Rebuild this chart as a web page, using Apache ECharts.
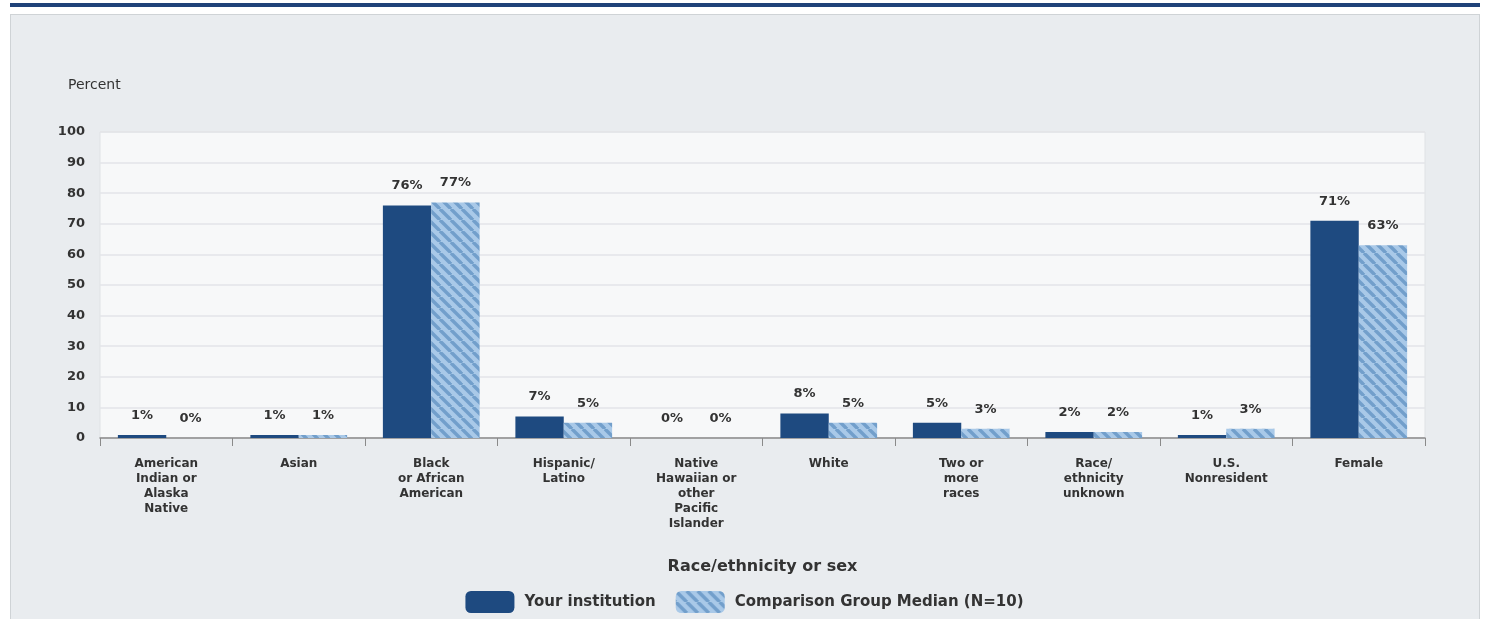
<!DOCTYPE html>
<html><head><meta charset="utf-8">
<script src="https://cdn.jsdelivr.net/npm/echarts@6/dist/echarts.min.js"></script>
<style>
html,body{margin:0;padding:0;background:#fff;}
#bar{position:absolute;left:10px;top:3px;width:1470px;height:4px;background:#1f4279;}
#panel{position:absolute;left:10px;top:14px;width:1468px;height:620px;background:#e9ecef;border:1px solid #cfd3d6;}
#chart{position:absolute;left:0;top:0;width:1489px;height:619px;}
</style></head>
<body>
<div id="bar"></div><div id="panel"></div>
<div id="chart"></div>
<script>
const categories = ["American\nIndian or\nAlaska\nNative","Asian","Black\nor African\nAmerican","Hispanic/\nLatino","Native\nHawaiian or\nother\nPacific\nIslander","White","Two or\nmore\nraces","Race/\nethnicity\nunknown","U.S.\nNonresident","Female"];
const yourInstitution = [1,1,76,7,0,8,5,2,1,71];
const comparisonMedian = [0,1,77,5,0,5,3,2,3,63];
const seriesNames = ["Your institution","Comparison Group Median (N=10)"];

const FONT = 'DejaVu Sans';
function hatch(){
  const c=document.createElement('canvas');c.width=11;c.height=11;
  const g=c.getContext('2d');
  g.fillStyle='#a9c9e8';g.fillRect(0,0,11,11);
  g.strokeStyle='#729fcb';g.lineWidth=3.4;
  for(let k=-11;k<=22;k+=11){g.beginPath();g.moveTo(k,0);g.lineTo(k+11,11);g.stroke();}
  return c;
}
const chart=echarts.init(document.getElementById('chart'),null,{renderer:'canvas'});
const lbl={show:true,position:'top',distance:13,formatter:'{c}%',color:'#333',fontWeight:'bold',fontSize:13,fontFamily:FONT};
chart.setOption({
  animation:false,
  textStyle:{fontFamily:FONT},
  grid:{left:100,right:64,top:132,bottom:181,show:true,backgroundColor:'#f7f8f9',borderColor:'#dfe2e5',borderWidth:1},
  legend:{bottom:1,left:'center',itemWidth:49,itemHeight:22,itemGap:20,icon:'roundRect',
    textStyle:{fontSize:15,fontWeight:'bold',color:'#333',fontFamily:FONT,padding:[0,0,0,5]},
    data:seriesNames},
  xAxis:{type:'category',data:categories,
    name:'Race/ethnicity or sex',nameLocation:'middle',nameGap:121,
    nameTextStyle:{fontSize:16,fontWeight:'bold',color:'#333',fontFamily:FONT},
    axisLine:{lineStyle:{color:'#8a8a8a',width:1.5}},
    axisTick:{show:true,length:8,lineStyle:{color:'#8a8a8a'}},
    axisLabel:{interval:0,fontSize:12,fontWeight:'bold',color:'#333',lineHeight:15,margin:18,fontFamily:FONT}},
  yAxis:{type:'value',min:0,max:100,interval:10,
    name:'Percent',nameLocation:'end',nameGap:40,
    nameTextStyle:{fontSize:14,color:'#333',align:'left',padding:[0,0,0,-32],fontFamily:FONT},
    axisLine:{show:false},axisTick:{show:false},
    axisLabel:{fontSize:13,fontWeight:'bold',color:'#333',margin:15,fontFamily:FONT},
    splitLine:{lineStyle:{color:'#e3e5e8',width:1.5}}},
  series:[
    {name:seriesNames[0],type:'bar',data:yourInstitution,barGap:'0%',barCategoryGap:'27%',
     itemStyle:{color:'#1e4a80'},label:lbl},
    {name:seriesNames[1],type:'bar',data:comparisonMedian,
     itemStyle:{color:{image:hatch(),repeat:'repeat'}},label:lbl}
  ]
});
</script>
</body></html>
